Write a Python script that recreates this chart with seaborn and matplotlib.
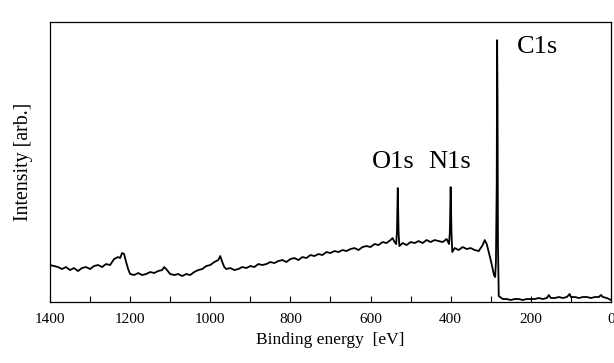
import pandas as pd
import seaborn as sns
import matplotlib.pyplot as plt

# XPS survey spectrum (arb. units)
energy = [1400, 1390, 1380, 1370, 1360, 1350, 1340, 1330, 1320, 1310,
          1300, 1290, 1280, 1270, 1260, 1250, 1240, 1230, 1225, 1220,
          1215, 1210, 1205, 1200, 1190, 1180, 1170, 1160, 1150, 1140,
          1130, 1120, 1115, 1110, 1100, 1090, 1080, 1070, 1060, 1050,
          1040, 1030, 1020, 1010, 1000, 990, 980, 975, 970, 965,
          960, 950, 940, 930, 920, 910, 900, 890, 880, 870,
          860, 850, 840, 830, 820, 810, 800, 790, 780, 770,
          760, 750, 740, 730, 720, 710, 700, 690, 680, 670,
          660, 650, 640, 630, 620, 610, 600, 590, 580, 570,
          560, 550, 545, 540, 536, 534, 532, 530, 528, 520,
          510, 500, 490, 480, 470, 460, 450, 440, 430, 420,
          410, 404, 402, 400, 398, 396, 390, 380, 370, 360,
          350, 340, 330, 320, 315, 310, 305, 300, 295, 292,
          289, 287, 285, 284, 283, 282, 280, 270, 260, 250,
          240, 230, 220, 210, 200, 190, 180, 170, 160, 155,
          150, 140, 130, 120, 110, 103, 100, 90, 80, 70,
          60, 50, 40, 30, 25, 20, 10, 0]
intensity = [37, 36, 35, 33, 35, 32, 34, 31, 34, 35,
             33, 36, 37, 35, 38, 37, 43, 45, 44, 49,
             48, 40, 33, 28, 27, 29, 27, 28, 30, 29,
             31, 32, 35, 33, 28, 27, 28, 26, 28, 27,
             30, 32, 33, 36, 37, 40, 42, 46, 40, 35,
             33, 34, 32, 33, 35, 34, 36, 35, 38, 37,
             38, 40, 39, 41, 42, 40, 43, 44, 42, 45,
             44, 47, 46, 48, 47, 50, 49, 51, 50, 52,
             51, 53, 54, 52, 55, 56, 55, 58, 57, 60,
             59, 62, 64, 60, 58, 70, 114, 70, 56, 59,
             57, 60, 59, 61, 59, 62, 60, 62, 61, 60,
             63, 58, 70, 115, 70, 50, 54, 52, 55, 53,
             54, 52, 51, 57, 62, 58, 50, 42, 33, 27,
             25, 40, 120, 262, 200, 60, 6, 3, 3, 2,
             3, 3, 2, 3, 3, 3, 4, 3, 4, 7,
             4, 4, 5, 4, 5, 8, 5, 5, 4, 5,
             5, 4, 5, 5, 7, 5, 4, 2]

peak_labels = ['C1s', 'O1s', 'N1s']
label_x = [234, 596, 457]
label_y = [249, 134, 134]

df = pd.DataFrame({'energy': energy, 'intensity': intensity})

sns.set_theme(style='ticks')
plt.rcParams['font.family'] = ['Liberation Serif', 'DejaVu Serif']
plt.rcParams['text.color'] = 'black'
plt.rcParams['axes.labelcolor'] = 'black'

fig = plt.figure(figsize=(6.14, 3.63), dpi=100)
ax = fig.add_axes([0.0814, 0.168, 0.9136, 0.771])
sns.lineplot(data=df, x='energy', y='intensity', color='black', linewidth=1.3, ax=ax)

ax.set_xlim(1400, 0)
ax.set_ylim(0, 280)
ax.set_xticks(range(0, 1401, 200))
ax.set_xticks(range(100, 1400, 200), minor=True)
ax.set_yticks([])
ax.tick_params(axis='x', which='both', direction='in', length=4, width=0.8,
               labelsize=11, pad=8, colors='black')
for sp in ax.spines.values():
    sp.set_visible(True)
    sp.set_linewidth(0.9)
    sp.set_color('black')

ax.set_xlabel('Binding energy  [eV]', fontsize=12.5, labelpad=4, color='black')
ax.set_ylabel('Intensity [arb.]', fontsize=14.3, labelpad=12, color='black')

for t, xx, yy in zip(peak_labels, label_x, label_y):
    ax.text(xx, yy, t, fontsize=19, ha='left', va='baseline', color='black')

fig.savefig('out.png', dpi=100)
